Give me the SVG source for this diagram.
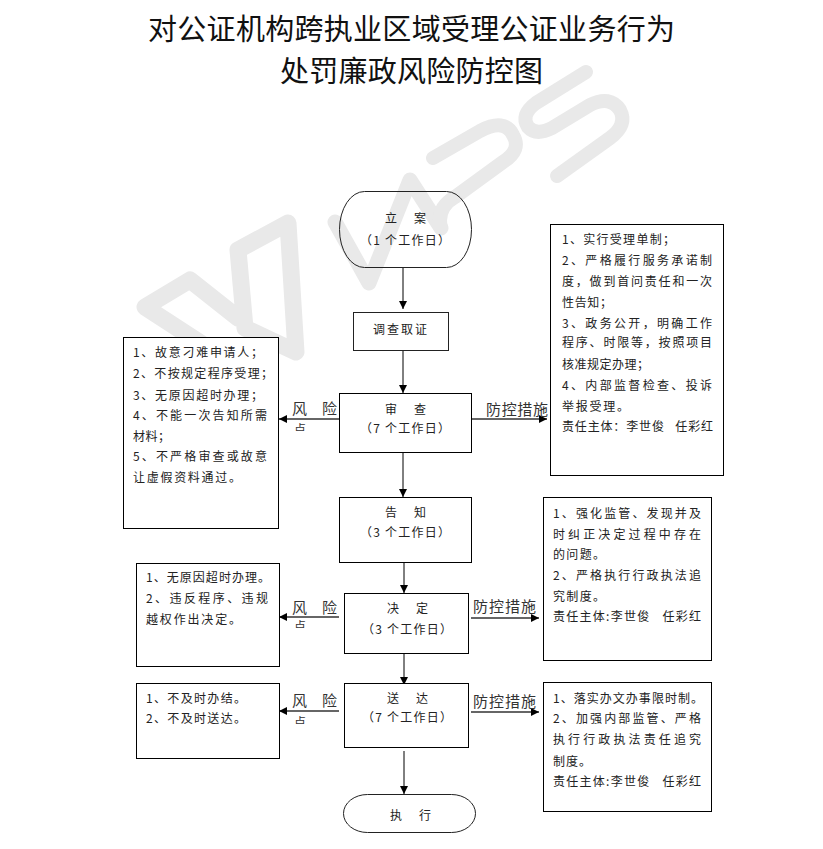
<svg xmlns="http://www.w3.org/2000/svg" width="823" height="849" viewBox="0 0 823 849">
<style>
text{font-family:"Noto Sans CJK SC","Noto Sans",sans-serif;font-size:12px;fill:#222;}
.title{font-size:29px;fill:#111;}
.lab{font-size:15px;fill:#333;}
.box{fill:#fff;stroke:#000;stroke-width:1;}
.open{fill:none;stroke:#222;stroke-width:1;}
.wm{fill:none;stroke:#e9e9e9;stroke-linecap:round;stroke-linejoin:round;}
.c{fill:none;stroke:#000;stroke-width:1;}
.h{fill:none;stroke:#333;stroke-width:1.5;}
</style>
<defs>
<marker id="a" markerUnits="userSpaceOnUse" markerWidth="10" markerHeight="10" refX="8" refY="4" orient="auto"><path d="M0,0L8,4L0,8Z" fill="#000"/></marker>
<clipPath id="k1"><rect x="290" y="421" width="20" height="10"/></clipPath>
<clipPath id="k2"><rect x="290" y="618" width="20" height="10"/></clipPath>
<clipPath id="k3"><rect x="290" y="714" width="20" height="10"/></clipPath>
</defs>
<g id="watermark">
<path class="wm" stroke-width="17" d="M238,318L190,280L145,307L245,372M238,250L245,328L296,352L288,223Z"/>
<path class="wm" stroke-width="15" d="M335,222L369,283L410,180L441,228"/>
<path class="wm" stroke-width="14" d="M433,158L480,131Q505,118 513,135Q522,150 503,162L455,197Q436,208 441,228"/>
<path class="wm" stroke-width="14" d="M586,72L536,103Q520,115 528,127Q536,136 552,128L590,105Q610,95 620,110Q628,125 610,138L557,176"/>
</g>
<g id="title">
<text class="title" x="148" y="40" textLength="527">对公证机构跨执业区域受理公证业务行为</text>
<text class="title" x="280" y="82" textLength="263">处罚廉政风险防控图</text>
</g>
<g id="connectors">
<path class="c" marker-end="url(#a)" d="M403,267V309"/>
<path class="c" marker-end="url(#a)" d="M403,351V393"/>
<path class="c" marker-end="url(#a)" d="M403,452V497"/>
<path class="c" marker-end="url(#a)" d="M404,562V593"/>
<path class="c" marker-end="url(#a)" d="M404,653V685"/>
<path class="c" marker-end="url(#a)" d="M404,751V794"/>
<path class="h" marker-end="url(#a)" d="M339,419H279"/>
<path class="h" marker-end="url(#a)" d="M339,617H279"/>
<path class="h" marker-end="url(#a)" d="M339,711H279"/>
<path class="h" marker-end="url(#a)" d="M472,419H547"/>
<path class="h" marker-end="url(#a)" d="M471,618H539"/>
<path class="h" marker-end="url(#a)" d="M471,712H539"/>
<text class="lab" x="292" y="414" textLength="45">风 险</text>
<text class="lab" x="294" y="434" clip-path="url(#k1)" style="font-size:12px">点</text>
<text class="lab" x="292" y="613" textLength="45">风 险</text>
<text class="lab" x="294" y="631" clip-path="url(#k2)" style="font-size:12px">点</text>
<text class="lab" x="292" y="706" textLength="45">风 险</text>
<text class="lab" x="294" y="727" clip-path="url(#k3)" style="font-size:12px">点</text>
<text class="lab" x="486" y="415" textLength="62">防控措施</text>
<text class="lab" x="473" y="612" textLength="63">防控措施</text>
<text class="lab" x="473" y="707" textLength="63">防控措施</text>
</g>
<g id="n-lian">
<rect class="open" x="339.500" y="191.500" width="132" height="76" rx="25" ry="38"/>
<text x="385" y="223" textLength="41">立 案</text>
<text x="360" y="245" textLength="90">（1 个工作日）</text>
</g>
<g id="n-diaocha">
<rect class="open" x="353.500" y="312.500" width="95" height="38"/>
<text x="373" y="334" textLength="54">调查取证</text>
</g>
<g id="n-shencha">
<rect class="box" x="339.500" y="393.500" width="132" height="59"/>
<text x="385" y="414" textLength="41">审 查</text>
<text x="360" y="433" textLength="90">（7 个工作日）</text>
</g>
<g id="n-gaozhi">
<rect class="box" x="339.500" y="497.500" width="132" height="65"/>
<text x="385" y="517" textLength="41">告 知</text>
<text x="360" y="537" textLength="90">（3 个工作日）</text>
</g>
<g id="n-jueding">
<rect class="box" x="344.500" y="593.500" width="124" height="60"/>
<text x="387" y="613" textLength="41">决 定</text>
<text x="362" y="634" textLength="90">（3 个工作日）</text>
</g>
<g id="n-songda">
<rect class="box" x="344.500" y="683.500" width="124" height="64"/>
<text x="387" y="703" textLength="41">送 达</text>
<text x="362" y="722" textLength="90">（7 个工作日）</text>
</g>
<g id="n-zhixing">
<rect class="open" x="343.500" y="794.500" width="132" height="38" rx="24" ry="19"/>
<text x="390" y="820" textLength="41">执 行</text>
</g>
<g id="risk-1">
<rect class="box" x="123.500" y="337.500" width="155" height="191"/>
<text x="133" y="357" textLength="130">1、故意刁难申请人；</text>
<text x="133" y="378" textLength="140">2、不按规定程序受理；</text>
<text x="133" y="400" textLength="130">3、无原因超时办理；</text>
<text x="133" y="420" textLength="134">4、不能一次告知所需</text>
<text x="133" y="441" textLength="37">材料；</text>
<text x="133" y="461" textLength="134">5、不严格审查或故意</text>
<text x="133" y="482" textLength="108">让虚假资料通过。</text>
</g>
<g id="ctrl-1">
<rect class="box" x="550.500" y="224.500" width="173" height="251"/>
<text x="562" y="244" textLength="113">1、实行受理单制；</text>
<text x="562" y="265" textLength="150">2、严格履行服务承诺制</text>
<text x="562" y="286" textLength="150">度，做到首问责任和一次</text>
<text x="562" y="307" textLength="50">性告知；</text>
<text x="562" y="328" textLength="150">3、政务公开，明确工作</text>
<text x="562" y="347" textLength="150">程序、时限等，按照项目</text>
<text x="562" y="369" textLength="87">核准规定办理；</text>
<text x="562" y="390" textLength="150">4、内部监督检查、投诉</text>
<text x="562" y="411" textLength="67">举报受理。</text>
<text x="562" y="431" textLength="151">责任主体：李世俊&#160;&#160;&#160;任彩红</text>
</g>
<g id="risk-2">
<rect class="box" x="136.500" y="563.500" width="143" height="103"/>
<text x="146" y="582" textLength="124">1、无原因超时办理。</text>
<text x="146" y="603" textLength="122">2、违反程序、违规</text>
<text x="146" y="624" textLength="95">越权作出决定。</text>
</g>
<g id="ctrl-2">
<rect class="box" x="543.500" y="497.500" width="168" height="163"/>
<text x="553" y="518" textLength="148">1、强化监管、发现并及</text>
<text x="553" y="539" textLength="148">时纠正决定过程中存在</text>
<text x="553" y="559" textLength="52">的问题。</text>
<text x="553" y="580" textLength="148">2、严格执行行政执法追</text>
<text x="553" y="601" textLength="52">究制度。</text>
<text x="553" y="621" textLength="148">责任主体:李世俊&#160;&#160;&#160;任彩红</text>
</g>
<g id="risk-3">
<rect class="box" x="136.500" y="683.500" width="143" height="75"/>
<text x="146" y="703" textLength="100">1、不及时办结。</text>
<text x="146" y="723" textLength="100">2、不及时送达。</text>
</g>
<g id="ctrl-3">
<rect class="box" x="543.500" y="682.500" width="168" height="129"/>
<text x="553" y="703" textLength="150">1、落实办文办事限时制。</text>
<text x="553" y="723" textLength="148">2、加强内部监管、严格</text>
<text x="553" y="744" textLength="148">执行行政执法责任追究</text>
<text x="553" y="766" textLength="38">制度。</text>
<text x="553" y="786" textLength="148">责任主体:李世俊&#160;&#160;&#160;任彩红</text>
</g>
</svg>
